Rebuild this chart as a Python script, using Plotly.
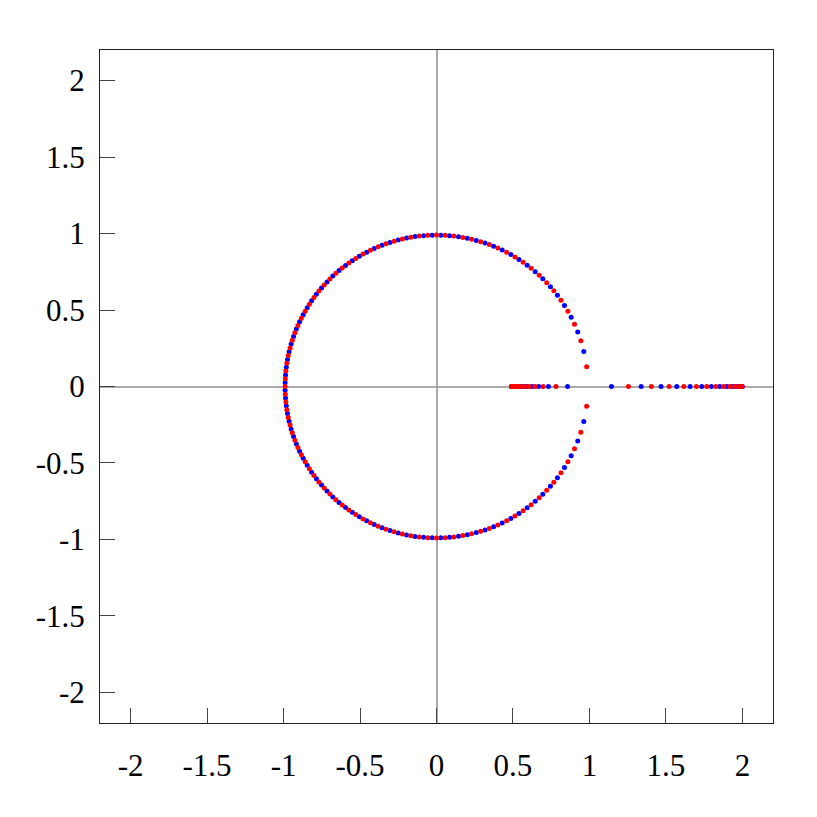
import numpy as np
import plotly.graph_objects as go

# circle points, angle in degrees, read from the upper half (lower half is the mirror)
# ordered from 180 deg down to the last point before the real axis; colours alternate red/blue
circle_deg = [
    180.0, 178.55, 177.08, 175.61, 174.14, 172.66, 171.19, 169.70, 168.22, 166.73,
    165.24, 163.74, 162.24, 160.74, 159.24, 157.73, 156.22, 154.71, 153.19, 151.67,
    150.15, 148.62, 147.09, 145.56, 144.03, 142.49, 140.95, 139.40, 137.86, 136.31,
    134.75, 133.20, 131.64, 130.07, 128.51, 126.94, 125.37, 123.79, 122.21, 120.63,
    119.05, 117.46, 115.87, 114.28, 112.68, 111.08, 109.48, 107.87, 106.26, 104.65,
    103.03, 101.42, 99.79, 98.17, 96.54, 94.91, 93.28, 91.64,
    90.0, 88.36, 86.72, 85.07, 83.42, 81.64, 79.98, 78.29, 76.6, 74.77,
    73.05, 71.33, 69.6, 67.84, 66.1, 64.28, 62.4, 60.6, 58.8, 57.0,
    55.1, 53.2, 51.3, 49.3, 47.3, 45.4, 43.3, 41.2, 39.2, 37.0,
    34.7, 32.3, 29.8, 27.2, 24.3, 21.1, 17.6, 13.4, 7.45,
]
circle_r = 0.99

# real-axis points (pairs), first one blue, then alternating
axis_right = [
    1.144, 1.255, 1.338, 1.405, 1.468, 1.521, 1.571, 1.617, 1.658, 1.699,
    1.734, 1.767, 1.797, 1.826, 1.852, 1.876, 1.898, 1.917, 1.934, 1.949,
    1.962, 1.973, 1.982, 1.989, 1.994, 1.998, 2.0,
]
axis_left = [
    0.857, 0.781, 0.732, 0.697, 0.668, 0.644, 0.624, 0.606, 0.591, 0.577,
    0.565, 0.555, 0.545, 0.537, 0.529, 0.522, 0.516, 0.511, 0.507, 0.503,
    0.499, 0.497, 0.495, 0.493, 0.491, 0.49, 0.49,
]

tickvals = [-2, -1.5, -1, -0.5, 0, 0.5, 1, 1.5, 2]
ticktext = ["-2", "-1.5", "-1", "-0.5", "0", "0.5", "1", "1.5", "2"]

red_x, red_y, blue_x, blue_y = [], [], [], []
for i, a in enumerate(circle_deg):
    t = np.deg2rad(a)
    xs = [circle_r * np.cos(t)]
    ys = [circle_r * np.sin(t)]
    if a != 180.0:
        xs.append(circle_r * np.cos(t))
        ys.append(-circle_r * np.sin(t))
    if i % 2 == 0:
        red_x += xs; red_y += ys
    else:
        blue_x += xs; blue_y += ys

for i, (a, b) in enumerate(zip(axis_right, axis_left)):
    if i % 2 == 0:
        blue_x += [a, b]; blue_y += [0, 0]
    else:
        red_x += [a, b]; red_y += [0, 0]

fig = go.Figure()
fig.add_trace(go.Scatter(x=blue_x, y=blue_y, mode="markers",
                         marker=dict(color="#0000ff", size=5), showlegend=False))
fig.add_trace(go.Scatter(x=red_x, y=red_y, mode="markers",
                         marker=dict(color="#ff0000", size=5), showlegend=False))

axis_style = dict(
    range=[-2.2, 2.2], tickvals=tickvals, ticktext=ticktext,
    ticks="inside", ticklen=15, tickcolor="#444", tickwidth=1,
    showline=True, linecolor="#222", linewidth=1, mirror=True,
    showgrid=False, zeroline=True, zerolinecolor="#aaaaaa", zerolinewidth=1.5,
    tickfont=dict(family="Liberation Serif, Times New Roman, serif", size=31, color="black"),
)

# the page body adds 8px, so margins are shifted to land the frame where the reference has it
fig.update_layout(
    width=817, height=817,
    margin=dict(l=92, r=52, t=42, b=102),
    plot_bgcolor="white", paper_bgcolor="white",
    xaxis=dict(**axis_style, ticklabelstandoff=15),
    yaxis=dict(**axis_style, ticklabelstandoff=8),
)

fig.write_html("out.html")
